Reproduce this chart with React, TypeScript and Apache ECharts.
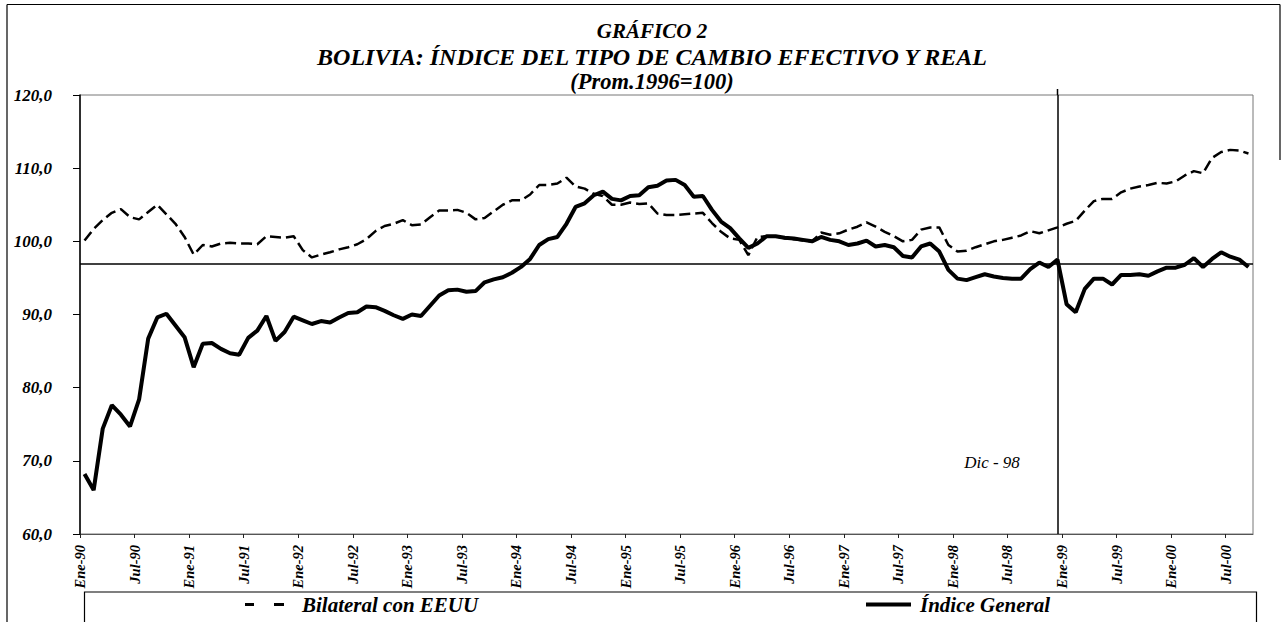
import React, { useEffect, useRef } from "react";
import * as echarts from "echarts";

const MONTHS = ["Ene", "Feb", "Mar", "Abr", "May", "Jun", "Jul", "Ago", "Sep", "Oct", "Nov", "Dic"];
const YEARS = ["90", "91", "92", "93", "94", "95", "96", "97", "98", "99", "00"];
const categories: string[] = [];
YEARS.forEach((y) => MONTHS.forEach((m) => categories.push(`${m}-${y}`)));
categories.length = 129; // Ene-90 .. Sep-00

const TICK_LABELS = [
  "Ene-90", "Jul-90", "Ene-91", "Jul-91", "Ene-92", "Jul-92", "Ene-93", "Jul-93",
  "Ene-94", "Jul-94", "Ene-95", "Jul-95", "Ene-96", "Jul-96", "Ene-97", "Jul-97",
  "Ene-98", "Jul-98", "Ene-99", "Jul-99", "Ene-00", "Jul-00",
];

const indiceGeneral = [
  68.2, 66.0, 74.4, 77.6, 76.3, 74.7, 78.4, 86.7, 89.6, 90.1, 88.5, 86.9,
  82.8, 86.0, 86.1, 85.3, 84.7, 84.5, 86.8, 87.8, 89.8, 86.4, 87.6, 89.7,
  89.2, 88.7, 89.1, 88.9, 89.6, 90.2, 90.3, 91.1, 91.0, 90.5, 89.9, 89.4,
  90.0, 89.8, 91.2, 92.6, 93.3, 93.4, 93.1, 93.2, 94.4, 94.8, 95.1, 95.7,
  96.5, 97.6, 99.5, 100.3, 100.6, 102.4, 104.7, 105.2, 106.3, 106.8, 105.8, 105.6,
  106.2, 106.3, 107.4, 107.6, 108.3, 108.4, 107.7, 106.1, 106.2, 104.3, 102.7, 101.8,
  100.4, 99.1, 99.7, 100.7, 100.7, 100.5, 100.4, 100.2, 100.0, 100.6, 100.2, 100.0,
  99.5, 99.7, 100.1, 99.3, 99.5, 99.2, 98.0, 97.8, 99.3, 99.7, 98.6, 96.1,
  94.9, 94.7, 95.1, 95.5, 95.2, 95.0, 94.9, 94.9, 96.2, 97.1, 96.5, 97.5,
  91.4, 90.3, 93.5, 94.9, 94.9, 94.1, 95.4, 95.4, 95.5, 95.3, 95.9, 96.4,
  96.4, 96.8, 97.7, 96.5, 97.6, 98.5, 97.9, 97.5, 96.5,
];

const bilateralEEUU = [
  100.1, 101.7, 102.9, 103.9, 104.4, 103.3, 103.0, 104.0, 105.0, 103.7, 102.4, 100.6,
  98.2, 99.5, 99.3, 99.7, 99.8, 99.7, 99.7, 99.6, 100.7, 100.6, 100.5, 100.7,
  98.8, 97.8, 98.2, 98.5, 98.9, 99.2, 99.6, 100.3, 101.4, 102.1, 102.4, 102.9,
  102.2, 102.3, 103.3, 104.2, 104.2, 104.3, 103.9, 103.0, 103.2, 104.1, 105.0, 105.6,
  105.6, 106.4, 107.7, 107.7, 107.9, 108.7, 107.5, 107.2, 106.5, 106.2, 105.0, 105.0,
  105.3, 105.1, 105.2, 103.8, 103.6, 103.6, 103.7, 103.8, 103.9, 102.5, 101.3, 100.4,
  100.2, 98.1, 100.6, 100.7, 100.7, 100.4, 100.3, 100.1, 100.0, 101.2, 100.9, 101.1,
  101.6, 102.0, 102.6, 102.0, 101.3, 100.7, 100.0, 100.2, 101.6, 101.9, 101.9, 99.5,
  98.6, 98.7, 99.2, 99.6, 100.0, 100.2, 100.5, 100.8, 101.4, 101.1, 101.5, 101.9,
  102.4, 102.8, 104.2, 105.5, 105.8, 105.8, 106.7, 107.2, 107.5, 107.7, 108.0, 107.9,
  108.2, 109.0, 109.6, 109.3, 111.4, 112.2, 112.5, 112.4, 112.0,
];

const REF_LEVEL = 97.0;
const MARK_MONTH = "Dic-98";
const Y_MIN = 60;
const Y_MAX = 120;

const SERIF = "'Liberation Serif', 'Times New Roman', serif";

export default function App() {
  const ref = useRef<HTMLDivElement>(null);

  useEffect(() => {
    if (!ref.current) return;
    const chart = echarts.init(ref.current, null, { renderer: "svg" });
    const toPoints = (arr: number[]) => arr.map((v, i) => [i + 0.5, v]);
    const markIdx = categories.indexOf(MARK_MONTH) + 0.5;

    const titleText = (text: string, y: number, size: number) => ({
      type: "text",
      x: 652,
      y,
      style: {
        text,
        fill: "#000",
        font: `italic bold ${size}px ${SERIF}`,
        align: "center",
        verticalAlign: "middle",
        textAlign: "center",
        textVerticalAlign: "middle",
      },
    });

    const legendText = {
      fontFamily: SERIF,
      fontStyle: "italic",
      fontWeight: "bold",
      fontSize: 21,
      color: "#000",
    };

    chart.setOption({
      animation: false,
      backgroundColor: "#fff",
      grid: {
        left: 80,
        right: 29,
        top: 95,
        bottom: 88,
        show: true,
        borderColor: "#777",
        borderWidth: 1,
        containLabel: false,
      },
      legend: [
        {
          data: [{ name: "Bilateral con EEUU", icon: "path://M0,0H9V3H0Z M29,0H39V3H29Z" }],
          left: 245,
          top: 594,
          itemWidth: 39,
          itemHeight: 3,
          padding: 0,
          textStyle: { ...legendText, padding: [0, 0, 0, 13] },
        },
        {
          data: [{ name: "Índice General", icon: "path://M0,0H45V4H0Z" }],
          left: 866,
          top: 594,
          itemWidth: 45,
          itemHeight: 4,
          padding: 0,
          textStyle: { ...legendText, padding: [0, 0, 0, 4] },
        },
      ],
      xAxis: {
        type: "value",
        min: 0,
        max: categories.length,
        interval: 6,
        splitLine: { show: false },
        axisLine: { show: true, lineStyle: { color: "#555", width: 1 } },
        axisTick: { show: true, length: 4, lineStyle: { color: "#222" } },
        axisLabel: {
          rotate: 90,
          margin: 11,
          showMaxLabel: false,
          fontFamily: SERIF,
          fontStyle: "italic",
          fontWeight: "bold",
          fontSize: 14.5,
          color: "#000",
          formatter: (v: number) => (v % 6 === 0 && TICK_LABELS[v / 6]) || "",
        },
      },
      yAxis: {
        type: "value",
        min: Y_MIN,
        max: Y_MAX,
        interval: 10,
        splitLine: { show: false },
        axisLine: { show: true, lineStyle: { color: "#000", width: 1.5 } },
        axisTick: { show: true, length: 7, lineStyle: { color: "#000" } },
        axisLabel: {
          margin: 28,
          fontFamily: SERIF,
          fontStyle: "italic",
          fontWeight: "bold",
          fontSize: 17,
          color: "#000",
          formatter: (v: number) => v.toFixed(1).replace(".", ","),
        },
      },
      series: [
        {
          name: "Bilateral con EEUU",
          type: "line",
          data: toPoints(bilateralEEUU),
          symbol: "none",
          lineStyle: { color: "#000", width: 2.5, type: [11, 5] },
          itemStyle: { color: "#000" },
          z: 2,
        },
        {
          name: "Índice General",
          type: "line",
          data: toPoints(indiceGeneral),
          symbol: "none",
          lineStyle: { color: "#000", width: 4 },
          itemStyle: { color: "#000" },
          z: 3,
          markLine: {
            silent: true,
            symbol: "none",
            label: { show: false },
            lineStyle: { color: "#000", width: 1.5, type: "solid" },
            data: [{ yAxis: REF_LEVEL }, { xAxis: markIdx }],
          },
        },
      ],
      graphic: [
        titleText("GRÁFICO 2", 31, 21),
        titleText("BOLIVIA: ÍNDICE DEL TIPO DE CAMBIO EFECTIVO Y REAL", 57, 24),
        titleText("(Prom.1996=100)", 81.5, 22.5),
        {
          type: "text",
          x: 992,
          y: 462,
          style: {
            text: "Dic - 98",
            fill: "#000",
            font: `italic 17px ${SERIF}`,
            align: "center",
            verticalAlign: "middle",
            textAlign: "center",
            textVerticalAlign: "middle",
          },
        },
        {
          type: "rect",
          shape: { x: 84.5, y: 592, width: 1172, height: 60 },
          style: { fill: "none", stroke: "#000", lineWidth: 1.2 },
          z: -1,
        },
        { type: "line", shape: { x1: 7, y1: 4.5, x2: 1280, y2: 4.5 }, style: { stroke: "#000", lineWidth: 1.2 } },
        { type: "line", shape: { x1: 7, y1: 4.5, x2: 7, y2: 622 }, style: { stroke: "#000", lineWidth: 1.2 } },
        { type: "line", shape: { x1: 1280, y1: 4.5, x2: 1280, y2: 160 }, style: { stroke: "#000", lineWidth: 1.2 } },
      ],
    });

    // the Dic-98 marker line rises slightly above the plot frame
    const px = chart.convertToPixel({ xAxisIndex: 0 }, markIdx) as number;
    const topPx = chart.convertToPixel({ yAxisIndex: 0 }, Y_MAX) as number;
    chart.setOption({
      graphic: [
        {
          id: "dicTop",
          type: "line",
          shape: { x1: px, y1: topPx - 6, x2: px, y2: topPx },
          style: { stroke: "#000", lineWidth: 1.5 },
        },
      ],
    });

    return () => chart.dispose();
  }, []);

  return (
    <div
      ref={ref}
      style={{ position: "fixed", left: 0, top: 0, width: 1282, height: 622, background: "#fff" }}
    />
  );
}
